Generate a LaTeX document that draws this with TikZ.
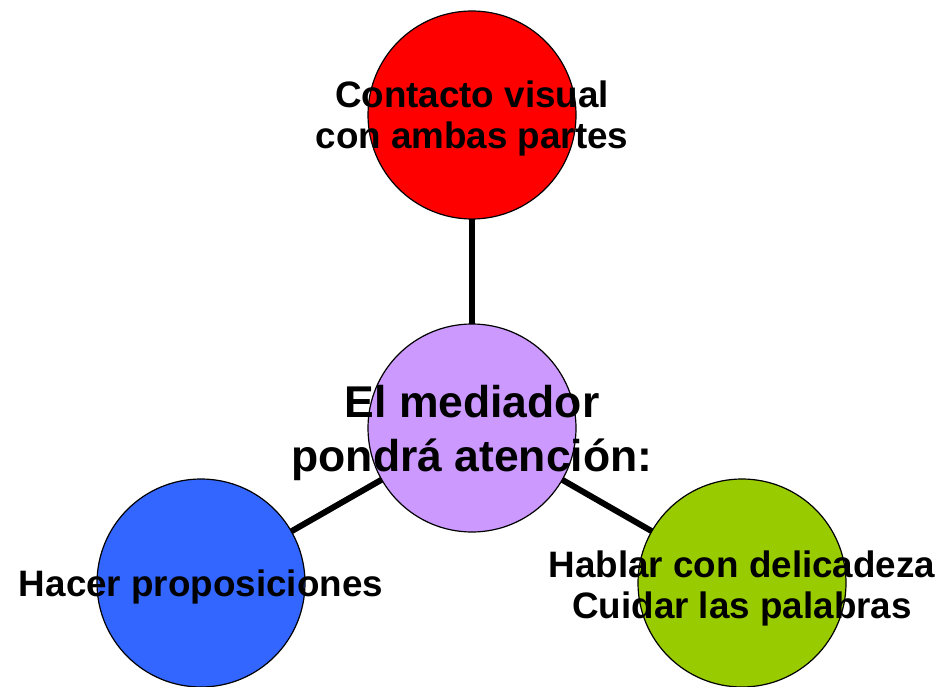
\documentclass[tikz,border=0pt]{standalone}
\usepackage{fontspec}
\setmainfont{Liberation Sans}
\usepackage[dvipsnames]{xcolor}
\definecolor{rojo}{HTML}{FF0000}
\definecolor{lila}{HTML}{CC99FF}
\definecolor{azul}{HTML}{3366FF}
\definecolor{verde}{HTML}{99CC00}

\begin{document}
\begin{tikzpicture}[x=1pt,y=1pt,-,thick,node distance=313pt,
    main node/.style={circle,draw,line width=1.2pt,minimum size=208pt,inner sep=0pt,outer sep=0pt},
    small text/.style={font=\bfseries\fontsize{36.8}{41}\selectfont,align=center,inner sep=0pt},
    big text/.style={font=\bfseries\fontsize{44.5}{54}\selectfont,align=center,inner sep=0pt}]
            \useasboundingbox (0,0) rectangle (941,686);

            \node[main node,fill=rojo] (1) at (472,571) {};
            \node[main node,fill=lila] (2) [below of=1] {};
            \node[main node,fill=azul] (3) [below of=2, xshift=-271pt, yshift=158pt] {};
            \node[main node,fill=verde] (4) [below of=2, xshift=270pt, yshift=158pt] {};

            \path[line width=6pt]
                (1) edge (2)
                (2) edge (3)
                (2) edge (4)
                ;

            \node[small text] (t1) at (1) [yshift=-3pt] {Contacto visual\\con ambas partes};
            \node[big text] (t2) at (2) [yshift=-5pt] {El mediador\\pondrá atención:};
            \node[small text] (t3) at (3) [yshift=-4pt] {Hacer proposiciones};
            \node[small text] (t4) at (4) [yshift=-5pt] {Hablar con delicadeza\\Cuidar las palabras};
        \end{tikzpicture}
\end{document}
